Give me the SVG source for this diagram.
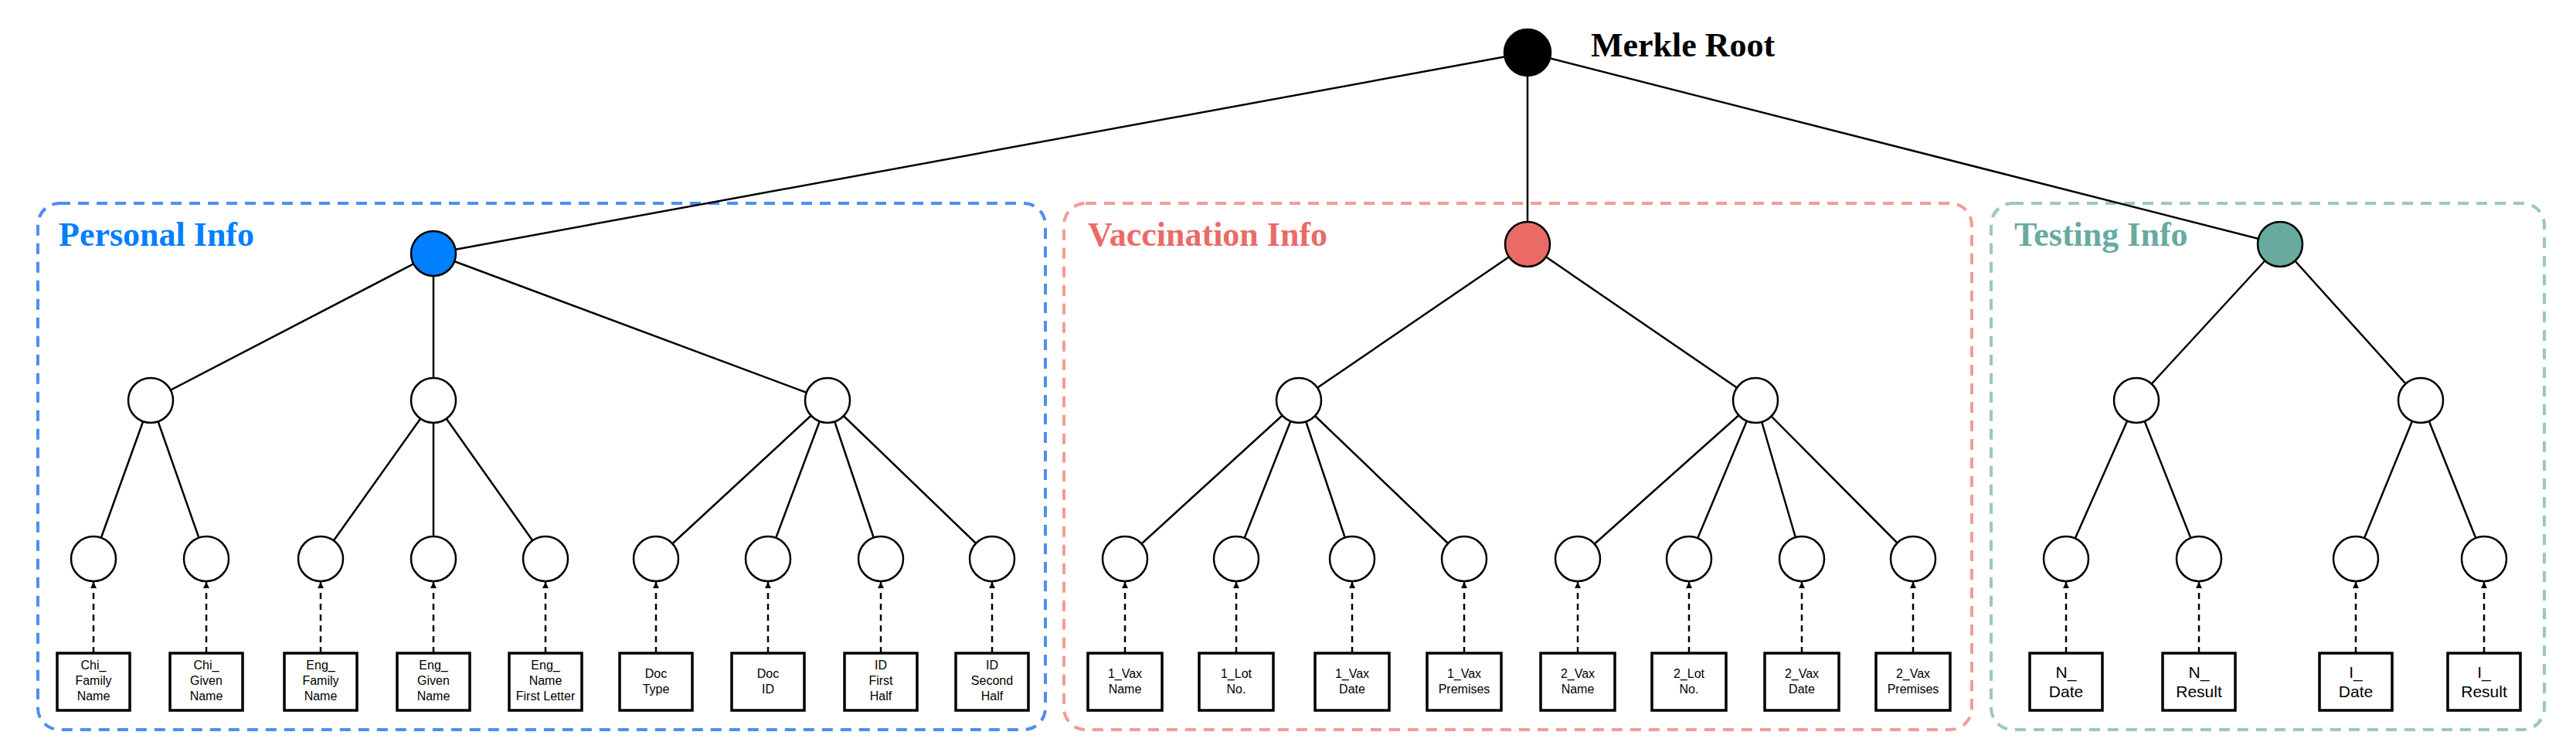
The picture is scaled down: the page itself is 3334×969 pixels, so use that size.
<svg xmlns="http://www.w3.org/2000/svg" width="3334" height="969" viewBox="0 0 3334 969">
<defs>
<marker id="ah" markerWidth="10" markerHeight="10" refX="8" refY="5" orient="auto" markerUnits="userSpaceOnUse"><path d="M0,1 L8,5 L0,9 Z" fill="#000"/></marker>
<style>
.n{fill:#fff;stroke:#000;stroke-width:2.5}
.e{stroke:#000;stroke-width:2.5;fill:none}
.d{stroke:#000;stroke-width:2.5;stroke-dasharray:8,6;fill:none;marker-end:url(#ah)}
.b{fill:#fff;stroke:#000;stroke-width:3.5}
.t{font-family:"Liberation Sans",Arial,sans-serif;font-size:16px;text-anchor:middle;fill:#000}
.tl{font-family:"Liberation Sans",Arial,sans-serif;font-size:21px;text-anchor:middle;fill:#000}
.h{font-family:"Liberation Serif","Times New Roman",serif;font-weight:bold;font-size:44px}
</style>
</defs>
<rect width="3334" height="969" fill="#fff"/>
<g id="groups">
<rect x="49" y="263" width="1304" height="681" rx="28" fill="none" stroke="#4d8ef7" stroke-width="4" stroke-dasharray="14,10"/>
<rect x="1377" y="263" width="1175" height="681" rx="28" fill="none" stroke="#f19c99" stroke-width="4" stroke-dasharray="14,10"/>
<rect x="2577" y="263" width="716" height="681" rx="28" fill="none" stroke="#9ac7bf" stroke-width="4" stroke-dasharray="14,10"/>
<text class="h" x="76" y="318" fill="#007fff">Personal Info</text>
<text class="h" x="1408" y="318" fill="#ea6b66">Vaccination Info</text>
<text class="h" x="2607" y="318" fill="#67ab9f">Testing Info</text>
<text class="h" x="2059" y="73" fill="#000">Merkle Root</text>
</g>
<g id="connectors">
<line class="e" x1="1977" y1="68" x2="561" y2="328"/>
<line class="e" x1="1977" y1="68" x2="1977" y2="316"/>
<line class="e" x1="1977" y1="68" x2="2951" y2="316"/>
<path class="e" d="M561,328 L195,518 M561,328 L561,518 M561,328 L1071,518
M195,518 L121,723 M195,518 L267,723
M561,518 L415,723 M561,518 L561,723 M561,518 L706,723
M1071,518 L849,723 M1071,518 L994,723 M1071,518 L1140,723 M1071,518 L1284,723
M1977,316 L1681,518 M1977,316 L2272,518
M1681,518 L1456,723 M1681,518 L1600,723 M1681,518 L1750,723 M1681,518 L1895,723
M2272,518 L2042,723 M2272,518 L2186,723 M2272,518 L2332,723 M2272,518 L2476,723
M2951,316 L2765,518 M2951,316 L3133,518
M2765,518 L2674,723 M2765,518 L2846,723 M3133,518 L3049,723 M3133,518 L3215,723"/>
<g>
<line class="d" x1="121" y1="845" x2="121" y2="753"/><line class="d" x1="267" y1="845" x2="267" y2="753"/>
<line class="d" x1="415" y1="845" x2="415" y2="753"/><line class="d" x1="561" y1="845" x2="561" y2="753"/>
<line class="d" x1="706" y1="845" x2="706" y2="753"/><line class="d" x1="849" y1="845" x2="849" y2="753"/>
<line class="d" x1="994" y1="845" x2="994" y2="753"/><line class="d" x1="1140" y1="845" x2="1140" y2="753"/>
<line class="d" x1="1284" y1="845" x2="1284" y2="753"/>
<line class="d" x1="1456" y1="845" x2="1456" y2="753"/><line class="d" x1="1600" y1="845" x2="1600" y2="753"/>
<line class="d" x1="1750" y1="845" x2="1750" y2="753"/><line class="d" x1="1895" y1="845" x2="1895" y2="753"/>
<line class="d" x1="2042" y1="845" x2="2042" y2="753"/><line class="d" x1="2186" y1="845" x2="2186" y2="753"/>
<line class="d" x1="2332" y1="845" x2="2332" y2="753"/><line class="d" x1="2476" y1="845" x2="2476" y2="753"/>
<line class="d" x1="2674" y1="845" x2="2674" y2="753"/><line class="d" x1="2846" y1="845" x2="2846" y2="753"/>
<line class="d" x1="3049" y1="845" x2="3049" y2="753"/><line class="d" x1="3215" y1="845" x2="3215" y2="753"/>
</g>
</g>
<g id="root"><circle cx="1977" cy="68" r="30" fill="#000" stroke="#000" stroke-width="2.5"/></g>
<g id="personal-hash"><circle cx="561" cy="328" r="29" fill="#007fff" stroke="#000" stroke-width="2.5"/></g>
<g id="vax-hash"><circle cx="1977" cy="316" r="29" fill="#ea6b66" stroke="#000" stroke-width="2.5"/></g>
<g id="test-hash"><circle cx="2951" cy="316" r="29" fill="#67ab9f" stroke="#000" stroke-width="2.5"/></g>
<g id="level2">
<circle class="n" cx="195" cy="518" r="29"/><circle class="n" cx="561" cy="518" r="29"/><circle class="n" cx="1071" cy="518" r="29"/>
<circle class="n" cx="1681" cy="518" r="29"/><circle class="n" cx="2272" cy="518" r="29"/>
<circle class="n" cx="2765" cy="518" r="29"/><circle class="n" cx="3133" cy="518" r="29"/>
</g>
<g id="level3">
<circle class="n" cx="121" cy="723" r="29"/><circle class="n" cx="267" cy="723" r="29"/><circle class="n" cx="415" cy="723" r="29"/>
<circle class="n" cx="561" cy="723" r="29"/><circle class="n" cx="706" cy="723" r="29"/><circle class="n" cx="849" cy="723" r="29"/>
<circle class="n" cx="994" cy="723" r="29"/><circle class="n" cx="1140" cy="723" r="29"/><circle class="n" cx="1284" cy="723" r="29"/>
<circle class="n" cx="1456" cy="723" r="29"/><circle class="n" cx="1600" cy="723" r="29"/><circle class="n" cx="1750" cy="723" r="29"/>
<circle class="n" cx="1895" cy="723" r="29"/><circle class="n" cx="2042" cy="723" r="29"/><circle class="n" cx="2186" cy="723" r="29"/>
<circle class="n" cx="2332" cy="723" r="29"/><circle class="n" cx="2476" cy="723" r="29"/>
<circle class="n" cx="2674" cy="723" r="29"/><circle class="n" cx="2846" cy="723" r="29"/><circle class="n" cx="3049" cy="723" r="29"/><circle class="n" cx="3215" cy="723" r="29"/>
</g>
<g id="leaf-chi-family"><rect class="b" x="74" y="845" width="94" height="74"/><text class="t" x="121" y="866"><tspan x="121">Chi_</tspan><tspan x="121" dy="20">Family</tspan><tspan x="121" dy="20">Name</tspan></text></g>
<g id="leaf-chi-given"><rect class="b" x="220" y="845" width="94" height="74"/><text class="t" x="267" y="866"><tspan x="267">Chi_</tspan><tspan x="267" dy="20">Given</tspan><tspan x="267" dy="20">Name</tspan></text></g>
<g id="leaf-eng-family"><rect class="b" x="368" y="845" width="94" height="74"/><text class="t" x="415" y="866"><tspan x="415">Eng_</tspan><tspan x="415" dy="20">Family</tspan><tspan x="415" dy="20">Name</tspan></text></g>
<g id="leaf-eng-given"><rect class="b" x="514" y="845" width="94" height="74"/><text class="t" x="561" y="866"><tspan x="561">Eng_</tspan><tspan x="561" dy="20">Given</tspan><tspan x="561" dy="20">Name</tspan></text></g>
<g id="leaf-eng-first"><rect class="b" x="659" y="845" width="94" height="74"/><text class="t" x="706" y="866"><tspan x="706">Eng_</tspan><tspan x="706" dy="20">Name</tspan><tspan x="706" dy="20">First Letter</tspan></text></g>
<g id="leaf-doc-type"><rect class="b" x="802" y="845" width="94" height="74"/><text class="t" x="849" y="877"><tspan x="849">Doc</tspan><tspan x="849" dy="20">Type</tspan></text></g>
<g id="leaf-doc-id"><rect class="b" x="947" y="845" width="94" height="74"/><text class="t" x="994" y="877"><tspan x="994">Doc</tspan><tspan x="994" dy="20">ID</tspan></text></g>
<g id="leaf-id-first"><rect class="b" x="1093" y="845" width="94" height="74"/><text class="t" x="1140" y="866"><tspan x="1140">ID</tspan><tspan x="1140" dy="20">First</tspan><tspan x="1140" dy="20">Half</tspan></text></g>
<g id="leaf-id-second"><rect class="b" x="1237" y="845" width="94" height="74"/><text class="t" x="1284" y="866"><tspan x="1284">ID</tspan><tspan x="1284" dy="20">Second</tspan><tspan x="1284" dy="20">Half</tspan></text></g>
<g id="leaf-1vax-name"><rect class="b" x="1408" y="845" width="96" height="74"/><text class="t" x="1456" y="877"><tspan x="1456">1_Vax</tspan><tspan x="1456" dy="20">Name</tspan></text></g>
<g id="leaf-1lot"><rect class="b" x="1552" y="845" width="96" height="74"/><text class="t" x="1600" y="877"><tspan x="1600">1_Lot</tspan><tspan x="1600" dy="20">No.</tspan></text></g>
<g id="leaf-1vax-date"><rect class="b" x="1702" y="845" width="96" height="74"/><text class="t" x="1750" y="877"><tspan x="1750">1_Vax</tspan><tspan x="1750" dy="20">Date</tspan></text></g>
<g id="leaf-1vax-prem"><rect class="b" x="1847" y="845" width="96" height="74"/><text class="t" x="1895" y="877"><tspan x="1895">1_Vax</tspan><tspan x="1895" dy="20">Premises</tspan></text></g>
<g id="leaf-2vax-name"><rect class="b" x="1994" y="845" width="96" height="74"/><text class="t" x="2042" y="877"><tspan x="2042">2_Vax</tspan><tspan x="2042" dy="20">Name</tspan></text></g>
<g id="leaf-2lot"><rect class="b" x="2138" y="845" width="96" height="74"/><text class="t" x="2186" y="877"><tspan x="2186">2_Lot</tspan><tspan x="2186" dy="20">No.</tspan></text></g>
<g id="leaf-2vax-date"><rect class="b" x="2284" y="845" width="96" height="74"/><text class="t" x="2332" y="877"><tspan x="2332">2_Vax</tspan><tspan x="2332" dy="20">Date</tspan></text></g>
<g id="leaf-2vax-prem"><rect class="b" x="2428" y="845" width="96" height="74"/><text class="t" x="2476" y="877"><tspan x="2476">2_Vax</tspan><tspan x="2476" dy="20">Premises</tspan></text></g>
<g id="leaf-n-date"><rect class="b" x="2627" y="845" width="94" height="74"/><text class="tl" x="2674" y="877"><tspan x="2674">N_</tspan><tspan x="2674" dy="25">Date</tspan></text></g>
<g id="leaf-n-result"><rect class="b" x="2799" y="845" width="94" height="74"/><text class="tl" x="2846" y="877"><tspan x="2846">N_</tspan><tspan x="2846" dy="25">Result</tspan></text></g>
<g id="leaf-i-date"><rect class="b" x="3002" y="845" width="94" height="74"/><text class="tl" x="3049" y="877"><tspan x="3049">I_</tspan><tspan x="3049" dy="25">Date</tspan></text></g>
<g id="leaf-i-result"><rect class="b" x="3168" y="845" width="94" height="74"/><text class="tl" x="3215" y="877"><tspan x="3215">I_</tspan><tspan x="3215" dy="25">Result</tspan></text></g>
</svg>
